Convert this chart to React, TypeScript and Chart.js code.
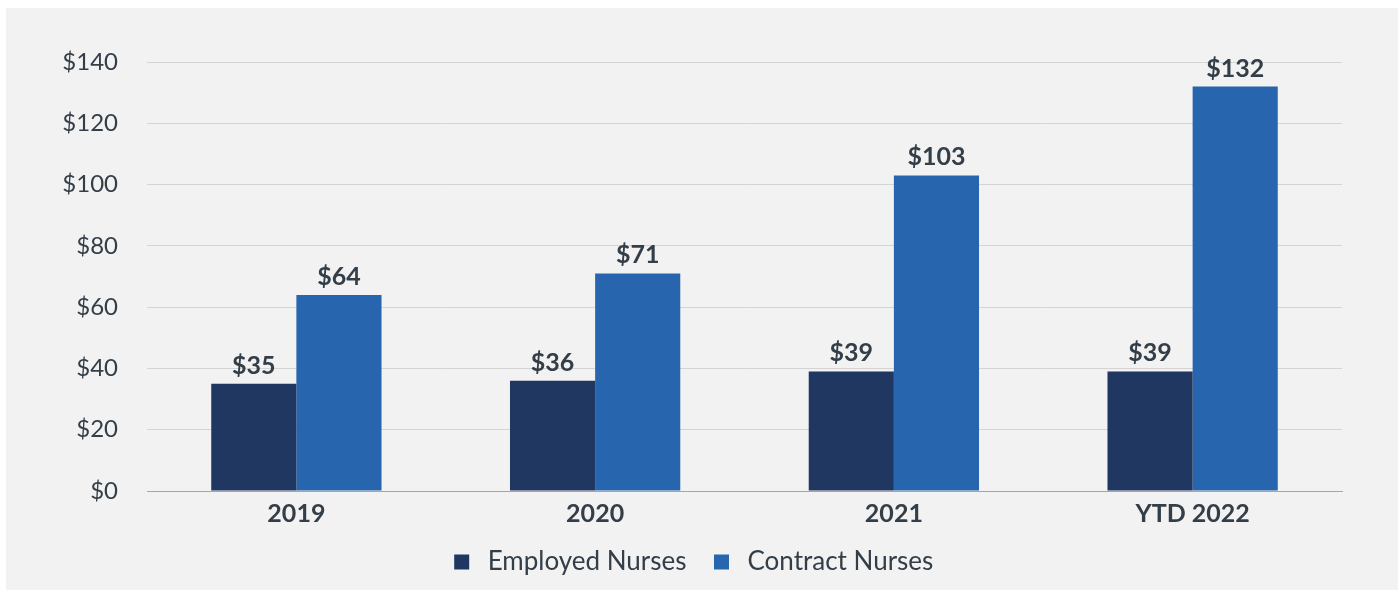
import React, { useEffect, useRef } from "react";
import { Chart, registerables } from "chart.js";

Chart.register(...registerables);

const categories = ["2019", "2020", "2021", "YTD 2022"];
const employedNurses = [35, 36, 39, 39];
const contractNurses = [64, 71, 103, 132];
const seriesNames = ["Employed Nurses", "Contract Nurses"];
const yMin = 0;
const yMax = 140;
const yStep = 20;

const FONT = "Lato, 'Noto Sans', sans-serif";
const TEXT = "#333e48";
const EMPLOYED = "#1f3761";
const CONTRACT = "#2766ae";

const valueLabels = {
  id: "valueLabels",
  afterDatasetsDraw(chart: any) {
    const ctx = chart.ctx;
    ctx.save();
    ctx.font = `bold 25px ${FONT}`;
    ctx.fillStyle = TEXT;
    ctx.textAlign = "center";
    ctx.textBaseline = "alphabetic";
    chart.data.datasets.forEach((ds: any, i: number) => {
      chart.getDatasetMeta(i).data.forEach((bar: any, j: number) => {
        ctx.fillText("$" + ds.data[j], bar.x, bar.y - 10);
      });
    });
    ctx.restore();
  },
};

export default function App() {
  const ref = useRef<HTMLCanvasElement>(null);
  useEffect(() => {
    if (!ref.current) return;
    const chart = new Chart(ref.current, {
      type: "bar",
      data: {
        labels: categories,
        datasets: [
          { label: seriesNames[0], data: employedNurses, backgroundColor: EMPLOYED },
          { label: seriesNames[1], data: contractNurses, backgroundColor: CONTRACT },
        ],
      },
      options: {
        responsive: false,
        animation: false,
        events: [],
        layout: { padding: { left: 0, right: 22, top: 54, bottom: 5 } },
        datasets: { bar: { categoryPercentage: 0.57, barPercentage: 1 } },
        scales: {
          x: {
            grid: { display: false, drawTicks: false },
            border: { display: true, color: "#a6a6a6", width: 1 },
            ticks: { color: TEXT, font: { family: FONT, size: 25, weight: "bold" }, padding: 8 },
            afterFit: (s: any) => { s.height = 36; },
          },
          y: {
            min: yMin,
            max: yMax,
            grid: { color: "#d4d4d4", lineWidth: 1, drawTicks: false },
            border: { display: false },
            ticks: {
              stepSize: yStep,
              color: TEXT,
              font: { family: FONT, size: 24 },
              padding: 29,
              callback: (v: any) => "$" + v,
            },
            afterFit: (s: any) => { s.width = 141; },
          },
          yRight: {
            position: "right",
            min: yMin,
            max: yMax,
            grid: { display: false, drawTicks: false },
            border: { display: false },
            ticks: { display: false },
            afterFit: (s: any) => { s.width = 34; },
          },
        },
        plugins: {
          legend: {
            position: "bottom",
            labels: {
              usePointStyle: true,
              pointStyle: "rect",
              boxWidth: 27,
              boxHeight: 15,
              padding: 22,
              color: TEXT,
              font: { family: FONT, size: 26 },
            },
          },
          tooltip: { enabled: false },
        },
      },
      plugins: [valueLabels],
    } as any);
    return () => chart.destroy();
  }, []);
  return (
    <div style={{ position: "absolute", left: 6, top: 8, width: 1392, height: 582, background: "#f2f2f2" }}>
      <canvas ref={ref} width={1392} height={582} style={{ display: "block" }} />
    </div>
  );
}
